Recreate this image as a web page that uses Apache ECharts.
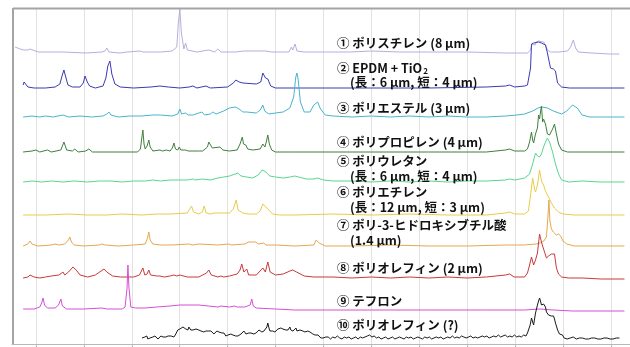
<!DOCTYPE html>
<html><head><meta charset="utf-8">
<script src="https://cdn.jsdelivr.net/npm/echarts@6/dist/echarts.min.js"></script>
<style>html,body{margin:0;padding:0;background:#fff}#c{width:630px;height:347px}</style>
</head><body><div id="c"></div>
<script>
// Raman shift (cm^-1), intensity above each spectrum's own baseline (arb. units)
const names = ['ポリスチレン','EPDM + TiO2','ポリエステル','ポリプロピレン','ポリウレタン','ポリエチレン','ポリ-3-ヒドロキシブチル酸','ポリオレフィン (2 µm)','テフロン','ポリオレフィン (?)'];
const offsets = [291, 256, 227, 192, 162, 129, 98, 66, 35, 5];
const xMin = 125, xMax = 3350, gridStart = 250, gridTickInterval = 250;

const polystyrene = [[141,6],[151,5],[167,4],[188,3],[208,3],[219,4],[229,2],[261,1],[307,1],[391,1],[511,0],[594,1],[610,2],[620,5],[631,1],[688,0],[725,1],[792,2],[808,1],[900,1],[960,2],[985,6],[993,30],[1001,44],[1009,20],[1022,4],[1031,10],[1040,3],[1090,1],[1152,3],[1160,1],[1183,1],[1199,4],[1215,1],[1290,1],[1335,2],[1450,2],[1480,1],[1570,1],[1583,6],[1590,3],[1602,9],[1612,2],[1650,1],[1750,1],[1887,1],[2000,2],[2148,1],[2300,1],[2500,1],[2700,0],[2815,0],[2831,3],[2840,9],[2847,11],[2855,8],[2860,11],[2873,12],[2883,11],[2899,11],[2909,8],[2919,3],[2935,1],[2980,1],[3024,2],[3040,6],[3054,13],[3066,5],[3080,1],[3150,0],[3243,-1],[3295,-1]];

const epdm = [[183,3],[188,6],[193,8],[198,4],[208,1],[240,0],[300,0],[350,1],[375,4],[386,12],[396,18],[404,12],[417,3],[440,1],[480,1],[497,5],[506,12],[511,13],[518,6],[530,2],[560,0],[600,2],[615,10],[625,22],[636,27],[646,14],[662,4],[690,1],[760,0],[850,1],[897,2],[940,1],[1000,0],[1050,1],[1069,2],[1090,0],[1137,2],[1160,0],[1250,1],[1280,5],[1293,8],[1310,6],[1330,5],[1400,4],[1423,6],[1434,15],[1448,10],[1460,9],[1475,2],[1500,0],[1600,0],[1800,0],[2000,0],[2300,0],[2600,1],[2700,2],[2722,3],[2748,1],[2800,2],[2815,3],[2831,20],[2836,44],[2847,45],[2857,43],[2873,46],[2888,45],[2909,43],[2919,35],[2935,20],[2950,19],[2961,17],[2972,5],[2993,1],[3034,0],[3200,0],[3321,0]];

const polyester = [[183,0],[230,1],[270,0],[300,1],[340,0],[391,2],[420,0],[480,1],[540,0],[600,1],[620,3],[631,5],[641,2],[680,0],[740,1],[800,1],[860,2],[900,2],[960,1],[990,3],[1001,8],[1010,3],[1030,4],[1037,5],[1045,2],[1070,2],[1100,4],[1116,5],[1130,2],[1160,3],[1173,5],[1190,3],[1230,6],[1260,9],[1290,10],[1310,8],[1330,5],[1350,5],[1400,4],[1420,7],[1434,12],[1444,6],[1465,3],[1500,4],[1540,5],[1575,9],[1595,20],[1606,40],[1612,44],[1618,38],[1630,15],[1650,5],[1680,5],[1700,12],[1720,15],[1735,8],[1760,2],[1800,1],[1900,0],[2000,1],[2100,0],[2200,1],[2300,0],[2400,1],[2500,0],[2600,0],[2700,1],[2760,2],[2800,3],[2842,6],[2870,9],[2890,10],[2920,9],[2950,6],[2993,3],[3020,6],[3050,12],[3060,14],[3075,9],[3100,2],[3140,0],[3200,0],[3321,0]];

const polypropylene = [[183,0],[230,1],[250,2],[270,0],[310,2],[330,0],[380,2],[396,10],[410,2],[440,1],[453,3],[470,0],[510,1],[526,3],[545,0],[600,0],[700,0],[780,0],[795,3],[803,15],[808,22],[814,8],[820,3],[830,6],[839,12],[846,5],[860,1],[897,2],[910,1],[930,2],[940,3],[950,1],[962,4],[970,9],[978,3],[990,2],[998,5],[1006,2],[1030,2],[1037,4],[1045,1],[1080,1],[1105,1],[1120,1],[1145,5],[1152,10],[1160,8],[1170,4],[1180,2],[1210,5],[1217,6],[1225,2],[1260,1],[1300,2],[1315,8],[1327,15],[1333,8],[1345,7],[1355,3],[1380,2],[1420,3],[1434,8],[1445,5],[1452,10],[1460,17],[1468,8],[1480,2],[1500,0],[1600,0],[1800,0],[2000,0],[2300,0],[2600,0],[2700,2],[2722,3],[2748,1],[2800,1],[2815,3],[2826,10],[2836,20],[2842,12],[2847,9],[2857,18],[2867,24],[2873,37],[2878,33],[2883,40],[2888,46],[2894,30],[2899,33],[2904,32],[2909,28],[2919,18],[2930,17],[2946,23],[2956,28],[2966,18],[2977,8],[2993,2],[3024,0],[3100,0],[3200,0],[3321,0]];

const polyurethane = [[183,0],[230,1],[280,0],[330,1],[391,0],[450,1],[520,0],[580,1],[640,1],[700,0],[760,1],[820,1],[860,2],[900,1],[950,2],[1000,2],[1040,2],[1069,3],[1080,2],[1120,3],[1160,2],[1200,4],[1230,5],[1260,6],[1290,8],[1303,9],[1320,6],[1350,5],[1380,4],[1410,7],[1430,12],[1439,14],[1450,10],[1470,6],[1500,5],[1540,4],[1575,5],[1600,6],[1621,5],[1660,3],[1700,3],[1720,4],[1750,2],[1800,1],[1900,1],[2000,0],[2100,1],[2200,0],[2300,1],[2400,0],[2500,1],[2600,1],[2700,2],[2722,3],[2750,2],[2800,4],[2826,8],[2842,18],[2857,29],[2867,26],[2878,25],[2888,28],[2899,35],[2909,40],[2919,44],[2930,40],[2946,30],[2961,18],[2977,8],[2993,2],[3030,0],[3100,1],[3200,0],[3321,0]];

const polyethylene = [[183,0],[300,0],[420,1],[520,0],[620,0],[700,1],[800,0],[880,1],[950,1],[1040,2],[1050,4],[1062,9],[1072,3],[1100,1],[1118,3],[1128,9],[1138,2],[1160,1],[1180,2],[1260,2],[1280,6],[1295,15],[1305,5],[1330,2],[1360,1],[1400,1],[1420,4],[1434,11],[1445,9],[1455,8],[1470,4],[1485,1],[1520,0],[1600,0],[1800,1],[2000,0],[2200,1],[2400,0],[2600,0],[2700,2],[2722,3],[2748,1],[2800,1],[2820,4],[2831,20],[2842,37],[2852,26],[2857,23],[2867,30],[2878,45],[2888,34],[2899,30],[2909,24],[2925,18],[2940,12],[2956,7],[2977,3],[3000,1],[3060,0],[3200,0],[3321,0]];

const phb = [[183,0],[208,2],[219,5],[229,2],[260,0],[330,1],[350,2],[360,3],[370,1],[400,2],[420,6],[427,9],[435,4],[450,1],[500,0],[580,1],[594,2],[610,1],[680,0],[760,1],[820,2],[832,8],[839,14],[846,6],[860,2],[900,1],[960,1],[1050,2],[1058,4],[1065,1],[1100,2],[1110,1],[1200,1],[1256,2],[1270,1],[1340,2],[1361,4],[1370,2],[1397,4],[1410,2],[1439,3],[1450,1],[1500,1],[1600,0],[1700,1],[1712,6],[1720,8],[1728,3],[1760,0],[1900,0],[2100,1],[2300,0],[2500,0],[2700,1],[2800,1],[2860,2],[2880,3],[2900,5],[2914,9],[2922,30],[2927,46],[2932,25],[2940,17],[2950,14],[2956,16],[2966,11],[2977,12],[2988,10],[3000,5],[3020,2],[3060,0],[3200,0],[3321,0]];

const polyolefin2 = [[183,0],[208,1],[219,3],[240,1],[270,0],[300,1],[330,2],[370,3],[391,6],[400,3],[420,6],[443,11],[460,8],[480,3],[520,1],[560,3],[590,7],[605,9],[620,6],[650,2],[690,1],[730,1],[760,1],[790,3],[808,10],[818,3],[830,4],[839,8],[848,3],[880,2],[897,2],[920,1],[950,2],[970,3],[975,4],[985,2],[1001,3],[1010,1],[1040,1],[1070,1],[1100,1],[1140,5],[1152,8],[1165,3],[1200,1],[1215,2],[1230,1],[1260,2],[1300,4],[1315,8],[1324,14],[1335,6],[1350,9],[1360,3],[1400,3],[1434,10],[1447,6],[1460,16],[1472,6],[1500,3],[1540,4],[1575,7],[1590,8],[1610,6],[1650,2],[1700,1],[1800,1],[1900,0],[2000,1],[2100,0],[2200,1],[2300,0],[2400,1],[2500,0],[2600,1],[2700,3],[2722,4],[2745,1],[2800,1],[2815,5],[2826,13],[2836,21],[2847,13],[2857,18],[2867,25],[2878,44],[2888,36],[2894,32],[2904,30],[2914,20],[2925,22],[2940,24],[2956,24],[2966,10],[2977,4],[2993,1],[3030,0],[3100,0],[3200,-1],[3321,-1]];

const teflon = [[183,0],[240,0],[270,2],[280,6],[287,11],[295,4],[310,1],[350,1],[368,4],[380,10],[388,3],[410,0],[500,0],[594,1],[620,0],[700,0],[715,2],[725,20],[730,44],[735,22],[745,2],[770,1],[820,1],[880,2],[950,3],[1000,4],[1058,4],[1100,4],[1150,3],[1200,2],[1215,3],[1225,2],[1260,2],[1285,3],[1293,4],[1300,2],[1340,2],[1368,4],[1376,10],[1384,3],[1400,1],[1500,0],[1600,-1],[1800,-1],[2000,-1],[2300,-1],[2600,-1],[2800,-1],[2880,0],[2950,-1],[3050,-2],[3321,-2]];

const polyolefinUnknown = [[803,1],[808,3],[813,0],[818,2],[824,1],[829,3],[834,0],[839,2],[845,1],[850,3],[855,1],[860,2],[866,0],[871,3],[876,1],[881,2],[887,0],[892,2],[897,1],[902,3],[907,1],[913,2],[918,0],[923,3],[928,2],[934,1],[939,3],[944,2],[949,1],[955,3],[960,2],[965,4],[970,2],[975,3],[980,5],[985,7],[990,9],[996,11],[1001,10],[1006,12],[1011,10],[1017,12],[1022,11],[1027,13],[1032,10],[1037,11],[1043,9],[1048,12],[1053,10],[1058,9],[1064,11],[1069,9],[1074,10],[1079,8],[1085,10],[1090,9],[1095,11],[1100,9],[1105,10],[1111,8],[1116,10],[1121,9],[1126,7],[1132,9],[1137,8],[1142,10],[1147,7],[1152,8],[1158,6],[1163,8],[1168,6],[1173,7],[1179,5],[1184,7],[1189,6],[1194,8],[1199,6],[1205,7],[1210,5],[1215,7],[1220,6],[1226,4],[1231,6],[1236,5],[1241,3],[1246,5],[1252,4],[1257,6],[1262,3],[1267,5],[1273,3],[1278,4],[1283,2],[1288,4],[1293,3],[1299,5],[1304,3],[1309,4],[1314,3],[1320,5],[1325,7],[1330,5],[1335,8],[1340,6],[1346,5],[1351,7],[1356,5],[1361,6],[1367,4],[1372,6],[1377,5],[1382,7],[1387,5],[1393,7],[1398,6],[1403,8],[1408,7],[1414,9],[1419,7],[1424,8],[1429,7],[1434,9],[1440,8],[1445,10],[1450,9],[1455,12],[1460,16],[1466,11],[1471,8],[1476,9],[1481,7],[1486,8],[1492,9],[1497,7],[1502,9],[1507,8],[1513,10],[1518,8],[1523,9],[1528,11],[1533,9],[1539,10],[1544,8],[1549,10],[1554,9],[1560,11],[1565,9],[1570,10],[1575,12],[1580,9],[1586,11],[1591,8],[1596,10],[1601,9],[1607,11],[1612,8],[1617,10],[1622,8],[1628,9],[1633,7],[1638,10],[1643,8],[1648,9],[1654,7],[1659,8],[1664,6],[1669,8],[1675,6],[1680,7],[1685,5],[1690,7],[1695,5],[1701,6],[1706,4],[1711,5],[1716,3],[1722,4],[1727,2],[1732,3],[1737,1],[1742,3],[1748,1],[1753,2],[1758,0],[1763,2],[1775,2],[1787,0],[1799,2],[1811,1],[1823,3],[1835,1],[1847,0],[1859,2],[1871,1],[1883,2],[1895,0],[1907,1],[1919,2],[1931,0],[1943,2],[1955,1],[1967,2],[1979,3],[1991,4],[2003,2],[2015,3],[2027,1],[2039,2],[2051,0],[2063,1],[2075,2],[2087,0],[2099,1],[2111,2],[2123,0],[2135,1],[2147,2],[2159,1],[2171,0],[2183,2],[2195,1],[2207,2],[2219,0],[2231,1],[2243,2],[2255,1],[2267,0],[2279,2],[2291,1],[2303,2],[2315,0],[2327,1],[2339,2],[2351,1],[2363,2],[2375,0],[2387,1],[2399,2],[2411,1],[2423,3],[2435,1],[2447,2],[2459,1],[2471,3],[2483,2],[2495,1],[2507,2],[2519,3],[2531,1],[2543,2],[2555,1],[2567,2],[2579,3],[2591,2],[2603,3],[2615,1],[2627,2],[2639,3],[2651,2],[2663,4],[2675,2],[2687,3],[2699,4],[2711,2],[2723,3],[2735,2],[2747,4],[2759,2],[2771,3],[2783,2],[2795,4],[2807,3],[2815,6],[2822,8],[2829,14],[2836,21],[2842,17],[2847,14],[2852,20],[2857,26],[2862,30],[2867,34],[2873,38],[2878,41],[2883,38],[2888,34],[2894,33],[2899,35],[2904,36],[2909,32],[2914,27],[2919,25],[2925,24],[2930,22],[2935,24],[2940,23],[2946,21],[2951,23],[2956,20],[2961,16],[2966,13],[2972,9],[2977,7],[2982,5],[2990,3],[2998,4],[3006,1],[3014,2],[3022,0],[3030,2],[3038,1],[3046,0],[3054,2],[3062,1],[3070,0],[3078,2],[3086,1],[3094,0],[3102,1],[3110,2],[3118,0],[3126,1],[3134,0],[3142,2],[3150,1],[3158,0],[3166,1],[3174,2],[3182,0],[3190,1],[3198,0],[3206,2],[3214,1],[3222,0],[3230,1],[3238,2],[3246,0],[3254,1],[3262,0],[3270,2],[3278,1],[3286,0],[3295,1]];

const spectra = [polystyrene, epdm, polyester, polypropylene, polyurethane, polyethylene, phb, polyolefin2, teflon, polyolefinUnknown];
const colors = ['#b4aee0','#3a3ab4','#4ab4cc','#3f7f3f','#5ad68e','#e8cc48','#e4a850','#c83a3a','#d64fd6','#1a1a1a'];

const labelLines = [
  {t:'{n|① ポリスチレン (8 µm)}', x:337, y:43},
  {t:'{n|② EPDM + TiO}{s|2}', x:337, y:68},
  {t:'{n|(長：6 µm, 短：4 µm)}', x:350, y:82},
  {t:'{n|③ ポリエステル (3 µm)}', x:337, y:108},
  {t:'{n|④ ポリプロピレン (4 µm)}', x:337, y:142},
  {t:'{n|⑤ ポリウレタン}', x:337, y:161},
  {t:'{n|(長：6 µm, 短：4 µm)}', x:350, y:176},
  {t:'{n|⑥ ポリエチレン}', x:337, y:192},
  {t:'{n|(長：12 µm, 短：3 µm)}', x:350, y:207},
  {t:'{n|⑦ ポリ-3-ヒドロキシブチル酸}', x:337, y:225},
  {t:'{n|(1.4 µm)}', x:350, y:240},
  {t:'{n|⑧ ポリオレフィン (2 µm)}', x:337, y:268},
  {t:'{n|⑨ テフロン}', x:337, y:301},
  {t:'{n|⑩ ポリオレフィン (?)}', x:337, y:325}
];

const FONT = '"Noto Sans CJK JP", "Noto Sans", sans-serif';
const chart = echarts.init(document.getElementById('c'), null, {renderer:'canvas'});

const graphics = labelLines.map(l => ({
  type:'text', x:l.x, y:l.y, z:100,
  style:{text:l.t, verticalAlign:'middle', align:'left',
    rich:{
      n:{fill:'#111111', fontSize:12.5, fontWeight:'bold', fontFamily:FONT, lineHeight:14, verticalAlign:'middle'},
      s:{fill:'#111111', fontSize:8, fontWeight:'bold', fontFamily:FONT, lineHeight:8, verticalAlign:'bottom', padding:[0,0,0,1]}
    }}
}));
// frame (top & left)
graphics.push({type:'line', z:50, shape:{x1:13, y1:8.5, x2:630, y2:8.5}, style:{stroke:'#a4a4a4', lineWidth:2}});
graphics.push({type:'line', z:50, shape:{x1:13, y1:8, x2:13, y2:344}, style:{stroke:'#a4a4a4', lineWidth:2}});

const pxPerUnit = 618 / (xMax - xMin);
const grid1Left = 12 + (gridStart - xMin) * pxPerUnit;

chart.setOption({
  animation:false,
  backgroundColor:'#ffffff',
  grid:[
    {left:12, top:8, height:336, width:618},
    {left:grid1Left, top:8, height:336, width:630 - grid1Left, z:0}
  ],
  xAxis:[
    {type:'value', gridIndex:0, min:xMin, max:xMax,
      axisLabel:{show:false}, axisTick:{show:false},
      axisLine:{show:true, lineStyle:{color:'#b8b8b8', width:1}},
      splitLine:{show:false}},
    {type:'value', gridIndex:1, min:gridStart, max:xMax, interval:gridTickInterval,
      axisLabel:{show:false},
      axisLine:{show:false},
      axisTick:{show:true, length:3, lineStyle:{color:'#b8b8b8'}},
      splitLine:{show:true, lineStyle:{color:'#e2e2e2', width:1}}}
  ],
  yAxis:[
    {type:'value', gridIndex:0, min:0, max:336, show:false, splitLine:{show:false}},
    {type:'value', gridIndex:1, min:0, max:336, show:false, splitLine:{show:false}}
  ],
  series: spectra.map((pts, i) => ({
    name:names[i], type:'line', showSymbol:false, symbol:'none',
    xAxisIndex:0, yAxisIndex:0,
    data: pts.map(p => [p[0], p[1] + offsets[i]]),
    lineStyle:{color:colors[i], width:1},
    itemStyle:{color:colors[i]},
    z:2+i
  })),
  graphic: graphics
});
</script></body></html>
